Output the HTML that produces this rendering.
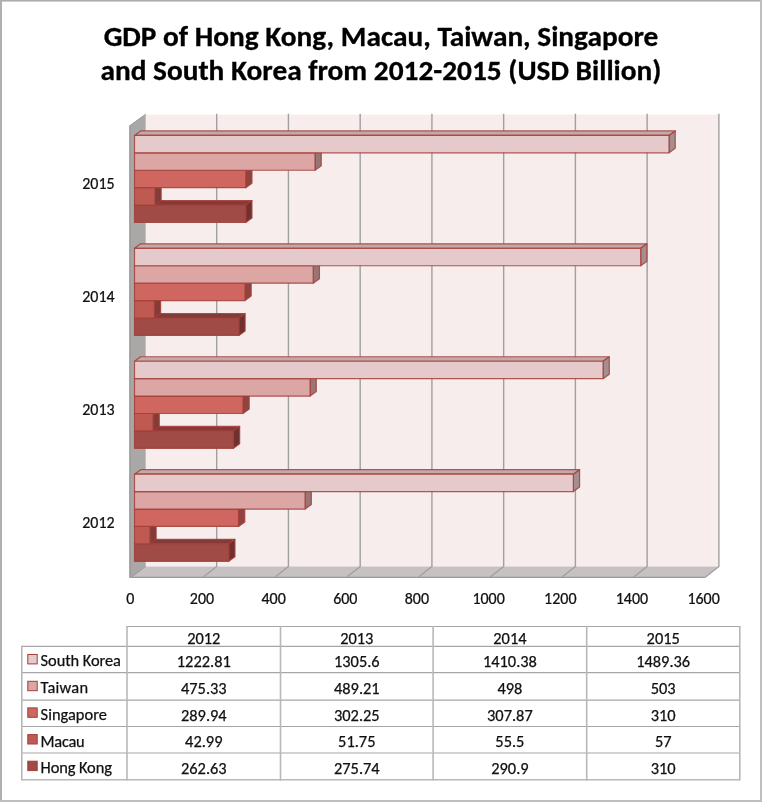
<!DOCTYPE html>
<html><head><meta charset="utf-8"><title>GDP chart</title>
<style>
html,body{margin:0;padding:0;background:#fff;}
body{width:762px;height:802px;overflow:hidden;position:relative;}
svg{position:absolute;left:0;top:0;will-change:transform;}
text{font-family:Carlito,"Liberation Sans",sans-serif;fill:#000;}
.ttl{font-size:29.33px;font-weight:bold;stroke:#000;stroke-width:0.3px;}
.ax{font-size:16px;fill:#111;stroke:#111;stroke-width:0.25px;}
.tb{font-size:16.4px;fill:#111;stroke:#111;stroke-width:0.25px;}
.lg{letter-spacing:0.1px;}
</style></head>
<body>
<svg width="762" height="802" viewBox="0 0 762 802">
<rect x="0" y="0" width="762" height="802" fill="#fff"/>
<g transform="translate(0,45.7) scale(1,0.94)"><text x="381" y="0" text-anchor="middle" class="ttl" textLength="554.66" lengthAdjust="spacingAndGlyphs">GDP of Hong Kong, Macau, Taiwan, Singapore</text></g>
<g transform="translate(0,79.8) scale(1,0.94)"><text x="381" y="0" text-anchor="middle" class="ttl" textLength="560.91" lengthAdjust="spacingAndGlyphs">and South Korea from 2012-2015 (USD Billion)</text></g>
<rect x="145.7" y="114.6" width="573.2" height="451.9" fill="#f7edec"/>
<polygon points="145.70,566.50 718.90,566.50 704.60,577.70 129.60,577.70" fill="#c7c1c1"/>
<line x1="129.6" y1="577.4" x2="704.60" y2="577.4" stroke="#999" stroke-width="1.3"/>
<polyline points="216.69,113.8 216.69,566.5 202.39,577.70" fill="none" stroke="#a0a0a0" stroke-width="1.4"/>
<polyline points="288.43,113.8 288.43,566.5 274.13,577.70" fill="none" stroke="#a0a0a0" stroke-width="1.4"/>
<polyline points="360.18,113.8 360.18,566.5 345.88,577.70" fill="none" stroke="#a0a0a0" stroke-width="1.4"/>
<polyline points="431.92,113.8 431.92,566.5 417.62,577.70" fill="none" stroke="#a0a0a0" stroke-width="1.4"/>
<polyline points="503.66,113.8 503.66,566.5 489.36,577.70" fill="none" stroke="#a0a0a0" stroke-width="1.4"/>
<polyline points="575.40,113.8 575.40,566.5 561.10,577.70" fill="none" stroke="#a0a0a0" stroke-width="1.4"/>
<polyline points="647.14,113.8 647.14,566.5 632.84,577.70" fill="none" stroke="#a0a0a0" stroke-width="1.4"/>
<polyline points="718.89,113.8 718.89,566.5 704.59,577.70" fill="none" stroke="#a0a0a0" stroke-width="1.4"/>
<polygon points="129.20,125.90 145.70,114.10 145.70,566.50 131.20,577.70 129.20,577.70" fill="#aaa7a7"/>
<line x1="130.1" y1="125.6" x2="130.1" y2="577" stroke="#9b9a9a" stroke-width="1.3"/>
<line x1="129.6" y1="125.8" x2="145.7" y2="114.2" stroke="#9b9a9a" stroke-width="0.9"/>
<line x1="145.7" y1="566.5" x2="131.2" y2="577.2" stroke="#9a9a9a" stroke-width="0.9"/>
<polygon points="134.50,205.08 245.76,205.08 251.96,200.58 140.70,200.58" fill="#843a38" stroke="#a23e3a" stroke-opacity="0.85" stroke-width="1.2" stroke-linejoin="round"/>
<polygon points="245.76,205.08 251.96,200.58 251.96,218.00 245.76,222.50" fill="#6f302e" stroke="#a23e3a" stroke-opacity="0.85" stroke-width="1.2" stroke-linejoin="round"/>
<polygon points="134.50,205.08 245.76,205.08 245.76,222.50 134.50,222.50" fill="#a04b46" stroke="#a23e3a" stroke-opacity="0.85" stroke-width="1.2" stroke-linejoin="round"/>
<polygon points="134.50,187.66 154.96,187.66 161.16,183.16 140.70,183.16" fill="#9c4843" stroke="#a23e3a" stroke-opacity="0.85" stroke-width="1.2" stroke-linejoin="round"/>
<polygon points="154.96,187.66 161.16,183.16 161.16,200.58 154.96,205.08" fill="#843c38" stroke="#a23e3a" stroke-opacity="0.85" stroke-width="1.2" stroke-linejoin="round"/>
<polygon points="134.50,187.66 154.96,187.66 154.96,205.08 134.50,205.08" fill="#bf5a53" stroke="#a23e3a" stroke-opacity="0.85" stroke-width="1.2" stroke-linejoin="round"/>
<polygon points="134.50,170.24 245.76,170.24 251.96,165.74 140.70,165.74" fill="#a9524d" stroke="#a23e3a" stroke-opacity="0.85" stroke-width="1.2" stroke-linejoin="round"/>
<polygon points="245.76,170.24 251.96,165.74 251.96,183.16 245.76,187.66" fill="#8f4440" stroke="#a23e3a" stroke-opacity="0.85" stroke-width="1.2" stroke-linejoin="round"/>
<polygon points="134.50,170.24 245.76,170.24 245.76,187.66 134.50,187.66" fill="#cf665f" stroke="#a23e3a" stroke-opacity="0.85" stroke-width="1.2" stroke-linejoin="round"/>
<polygon points="134.50,152.82 315.03,152.82 321.23,148.32 140.70,148.32" fill="#b88b89" stroke="#a23e3a" stroke-opacity="0.85" stroke-width="1.2" stroke-linejoin="round"/>
<polygon points="315.03,152.82 321.23,148.32 321.23,165.74 315.03,170.24" fill="#9a7573" stroke="#a23e3a" stroke-opacity="0.85" stroke-width="1.2" stroke-linejoin="round"/>
<polygon points="134.50,152.82 315.03,152.82 315.03,170.24 134.50,170.24" fill="#dba6a3" stroke="#a23e3a" stroke-opacity="0.85" stroke-width="1.2" stroke-linejoin="round"/>
<polygon points="134.50,135.40 669.03,135.40 675.23,130.90 140.70,130.90" fill="#c4a9a9" stroke="#a23e3a" stroke-opacity="0.85" stroke-width="1.2" stroke-linejoin="round"/>
<polygon points="669.03,135.40 675.23,130.90 675.23,148.32 669.03,152.82" fill="#a68e8f" stroke="#a23e3a" stroke-opacity="0.85" stroke-width="1.2" stroke-linejoin="round"/>
<polygon points="134.50,135.40 669.03,135.40 669.03,152.82 134.50,152.82" fill="#e6c9ca" stroke="#a23e3a" stroke-opacity="0.85" stroke-width="1.2" stroke-linejoin="round"/>
<polygon points="134.50,318.01 238.90,318.01 245.10,313.51 140.70,313.51" fill="#843a38" stroke="#a23e3a" stroke-opacity="0.85" stroke-width="1.2" stroke-linejoin="round"/>
<polygon points="238.90,318.01 245.10,313.51 245.10,330.93 238.90,335.43" fill="#6f302e" stroke="#a23e3a" stroke-opacity="0.85" stroke-width="1.2" stroke-linejoin="round"/>
<polygon points="134.50,318.01 238.90,318.01 238.90,335.43 134.50,335.43" fill="#a04b46" stroke="#a23e3a" stroke-opacity="0.85" stroke-width="1.2" stroke-linejoin="round"/>
<polygon points="134.50,300.59 154.42,300.59 160.62,296.09 140.70,296.09" fill="#9c4843" stroke="#a23e3a" stroke-opacity="0.85" stroke-width="1.2" stroke-linejoin="round"/>
<polygon points="154.42,300.59 160.62,296.09 160.62,313.51 154.42,318.01" fill="#843c38" stroke="#a23e3a" stroke-opacity="0.85" stroke-width="1.2" stroke-linejoin="round"/>
<polygon points="134.50,300.59 154.42,300.59 154.42,318.01 134.50,318.01" fill="#bf5a53" stroke="#a23e3a" stroke-opacity="0.85" stroke-width="1.2" stroke-linejoin="round"/>
<polygon points="134.50,283.17 244.99,283.17 251.19,278.67 140.70,278.67" fill="#a9524d" stroke="#a23e3a" stroke-opacity="0.85" stroke-width="1.2" stroke-linejoin="round"/>
<polygon points="244.99,283.17 251.19,278.67 251.19,296.09 244.99,300.59" fill="#8f4440" stroke="#a23e3a" stroke-opacity="0.85" stroke-width="1.2" stroke-linejoin="round"/>
<polygon points="134.50,283.17 244.99,283.17 244.99,300.59 134.50,300.59" fill="#cf665f" stroke="#a23e3a" stroke-opacity="0.85" stroke-width="1.2" stroke-linejoin="round"/>
<polygon points="134.50,265.75 313.23,265.75 319.43,261.25 140.70,261.25" fill="#b88b89" stroke="#a23e3a" stroke-opacity="0.85" stroke-width="1.2" stroke-linejoin="round"/>
<polygon points="313.23,265.75 319.43,261.25 319.43,278.67 313.23,283.17" fill="#9a7573" stroke="#a23e3a" stroke-opacity="0.85" stroke-width="1.2" stroke-linejoin="round"/>
<polygon points="134.50,265.75 313.23,265.75 313.23,283.17 134.50,283.17" fill="#dba6a3" stroke="#a23e3a" stroke-opacity="0.85" stroke-width="1.2" stroke-linejoin="round"/>
<polygon points="134.50,248.33 640.69,248.33 646.89,243.83 140.70,243.83" fill="#c4a9a9" stroke="#a23e3a" stroke-opacity="0.85" stroke-width="1.2" stroke-linejoin="round"/>
<polygon points="640.69,248.33 646.89,243.83 646.89,261.25 640.69,265.75" fill="#a68e8f" stroke="#a23e3a" stroke-opacity="0.85" stroke-width="1.2" stroke-linejoin="round"/>
<polygon points="134.50,248.33 640.69,248.33 640.69,265.75 134.50,265.75" fill="#e6c9ca" stroke="#a23e3a" stroke-opacity="0.85" stroke-width="1.2" stroke-linejoin="round"/>
<polygon points="134.50,430.94 233.46,430.94 239.66,426.44 140.70,426.44" fill="#843a38" stroke="#a23e3a" stroke-opacity="0.85" stroke-width="1.2" stroke-linejoin="round"/>
<polygon points="233.46,430.94 239.66,426.44 239.66,443.86 233.46,448.36" fill="#6f302e" stroke="#a23e3a" stroke-opacity="0.85" stroke-width="1.2" stroke-linejoin="round"/>
<polygon points="134.50,430.94 233.46,430.94 233.46,448.36 134.50,448.36" fill="#a04b46" stroke="#a23e3a" stroke-opacity="0.85" stroke-width="1.2" stroke-linejoin="round"/>
<polygon points="134.50,413.52 153.07,413.52 159.27,409.02 140.70,409.02" fill="#9c4843" stroke="#a23e3a" stroke-opacity="0.85" stroke-width="1.2" stroke-linejoin="round"/>
<polygon points="153.07,413.52 159.27,409.02 159.27,426.44 153.07,430.94" fill="#843c38" stroke="#a23e3a" stroke-opacity="0.85" stroke-width="1.2" stroke-linejoin="round"/>
<polygon points="134.50,413.52 153.07,413.52 153.07,430.94 134.50,430.94" fill="#bf5a53" stroke="#a23e3a" stroke-opacity="0.85" stroke-width="1.2" stroke-linejoin="round"/>
<polygon points="134.50,396.10 242.98,396.10 249.18,391.60 140.70,391.60" fill="#a9524d" stroke="#a23e3a" stroke-opacity="0.85" stroke-width="1.2" stroke-linejoin="round"/>
<polygon points="242.98,396.10 249.18,391.60 249.18,409.02 242.98,413.52" fill="#8f4440" stroke="#a23e3a" stroke-opacity="0.85" stroke-width="1.2" stroke-linejoin="round"/>
<polygon points="134.50,396.10 242.98,396.10 242.98,413.52 134.50,413.52" fill="#cf665f" stroke="#a23e3a" stroke-opacity="0.85" stroke-width="1.2" stroke-linejoin="round"/>
<polygon points="134.50,378.68 310.08,378.68 316.28,374.18 140.70,374.18" fill="#b88b89" stroke="#a23e3a" stroke-opacity="0.85" stroke-width="1.2" stroke-linejoin="round"/>
<polygon points="310.08,378.68 316.28,374.18 316.28,391.60 310.08,396.10" fill="#9a7573" stroke="#a23e3a" stroke-opacity="0.85" stroke-width="1.2" stroke-linejoin="round"/>
<polygon points="134.50,378.68 310.08,378.68 310.08,396.10 134.50,396.10" fill="#dba6a3" stroke="#a23e3a" stroke-opacity="0.85" stroke-width="1.2" stroke-linejoin="round"/>
<polygon points="134.50,361.26 603.08,361.26 609.28,356.76 140.70,356.76" fill="#c4a9a9" stroke="#a23e3a" stroke-opacity="0.85" stroke-width="1.2" stroke-linejoin="round"/>
<polygon points="603.08,361.26 609.28,356.76 609.28,374.18 603.08,378.68" fill="#a68e8f" stroke="#a23e3a" stroke-opacity="0.85" stroke-width="1.2" stroke-linejoin="round"/>
<polygon points="134.50,361.26 603.08,361.26 603.08,378.68 134.50,378.68" fill="#e6c9ca" stroke="#a23e3a" stroke-opacity="0.85" stroke-width="1.2" stroke-linejoin="round"/>
<polygon points="134.50,543.87 228.76,543.87 234.96,539.37 140.70,539.37" fill="#843a38" stroke="#a23e3a" stroke-opacity="0.85" stroke-width="1.2" stroke-linejoin="round"/>
<polygon points="228.76,543.87 234.96,539.37 234.96,556.79 228.76,561.29" fill="#6f302e" stroke="#a23e3a" stroke-opacity="0.85" stroke-width="1.2" stroke-linejoin="round"/>
<polygon points="134.50,543.87 228.76,543.87 228.76,561.29 134.50,561.29" fill="#a04b46" stroke="#a23e3a" stroke-opacity="0.85" stroke-width="1.2" stroke-linejoin="round"/>
<polygon points="134.50,526.45 149.93,526.45 156.13,521.95 140.70,521.95" fill="#9c4843" stroke="#a23e3a" stroke-opacity="0.85" stroke-width="1.2" stroke-linejoin="round"/>
<polygon points="149.93,526.45 156.13,521.95 156.13,539.37 149.93,543.87" fill="#843c38" stroke="#a23e3a" stroke-opacity="0.85" stroke-width="1.2" stroke-linejoin="round"/>
<polygon points="134.50,526.45 149.93,526.45 149.93,543.87 134.50,543.87" fill="#bf5a53" stroke="#a23e3a" stroke-opacity="0.85" stroke-width="1.2" stroke-linejoin="round"/>
<polygon points="134.50,509.03 238.56,509.03 244.76,504.53 140.70,504.53" fill="#a9524d" stroke="#a23e3a" stroke-opacity="0.85" stroke-width="1.2" stroke-linejoin="round"/>
<polygon points="238.56,509.03 244.76,504.53 244.76,521.95 238.56,526.45" fill="#8f4440" stroke="#a23e3a" stroke-opacity="0.85" stroke-width="1.2" stroke-linejoin="round"/>
<polygon points="134.50,509.03 238.56,509.03 238.56,526.45 134.50,526.45" fill="#cf665f" stroke="#a23e3a" stroke-opacity="0.85" stroke-width="1.2" stroke-linejoin="round"/>
<polygon points="134.50,491.61 305.10,491.61 311.30,487.11 140.70,487.11" fill="#b88b89" stroke="#a23e3a" stroke-opacity="0.85" stroke-width="1.2" stroke-linejoin="round"/>
<polygon points="305.10,491.61 311.30,487.11 311.30,504.53 305.10,509.03" fill="#9a7573" stroke="#a23e3a" stroke-opacity="0.85" stroke-width="1.2" stroke-linejoin="round"/>
<polygon points="134.50,491.61 305.10,491.61 305.10,509.03 134.50,509.03" fill="#dba6a3" stroke="#a23e3a" stroke-opacity="0.85" stroke-width="1.2" stroke-linejoin="round"/>
<polygon points="134.50,474.19 573.37,474.19 579.57,469.69 140.70,469.69" fill="#c4a9a9" stroke="#a23e3a" stroke-opacity="0.85" stroke-width="1.2" stroke-linejoin="round"/>
<polygon points="573.37,474.19 579.57,469.69 579.57,487.11 573.37,491.61" fill="#a68e8f" stroke="#a23e3a" stroke-opacity="0.85" stroke-width="1.2" stroke-linejoin="round"/>
<polygon points="134.50,474.19 573.37,474.19 573.37,491.61 134.50,491.61" fill="#e6c9ca" stroke="#a23e3a" stroke-opacity="0.85" stroke-width="1.2" stroke-linejoin="round"/>
<text x="114.7" y="189.5" transform="matrix(1,0,0,0.97,0,5.685)" text-anchor="end" class="ax" textLength="32.42" lengthAdjust="spacingAndGlyphs">2015</text>
<text x="114.7" y="302.4" transform="matrix(1,0,0,0.97,0,9.073)" text-anchor="end" class="ax" textLength="32.42" lengthAdjust="spacingAndGlyphs">2014</text>
<text x="114.7" y="415.4" transform="matrix(1,0,0,0.97,0,12.461)" text-anchor="end" class="ax" textLength="32.42" lengthAdjust="spacingAndGlyphs">2013</text>
<text x="114.7" y="528.3" transform="matrix(1,0,0,0.97,0,15.849)" text-anchor="end" class="ax" textLength="32.42" lengthAdjust="spacingAndGlyphs">2012</text>
<text x="130.3" y="604.2" transform="matrix(1,0,0,0.97,0,18.126)" text-anchor="middle" class="ax" textLength="8.11" lengthAdjust="spacingAndGlyphs">0</text>
<text x="202.0" y="604.2" transform="matrix(1,0,0,0.97,0,18.126)" text-anchor="middle" class="ax" textLength="24.32" lengthAdjust="spacingAndGlyphs">200</text>
<text x="273.6" y="604.2" transform="matrix(1,0,0,0.97,0,18.126)" text-anchor="middle" class="ax" textLength="24.32" lengthAdjust="spacingAndGlyphs">400</text>
<text x="345.3" y="604.2" transform="matrix(1,0,0,0.97,0,18.126)" text-anchor="middle" class="ax" textLength="24.32" lengthAdjust="spacingAndGlyphs">600</text>
<text x="416.9" y="604.2" transform="matrix(1,0,0,0.97,0,18.126)" text-anchor="middle" class="ax" textLength="24.32" lengthAdjust="spacingAndGlyphs">800</text>
<text x="488.6" y="604.2" transform="matrix(1,0,0,0.97,0,18.126)" text-anchor="middle" class="ax" textLength="32.42" lengthAdjust="spacingAndGlyphs">1000</text>
<text x="560.3" y="604.2" transform="matrix(1,0,0,0.97,0,18.126)" text-anchor="middle" class="ax" textLength="32.42" lengthAdjust="spacingAndGlyphs">1200</text>
<text x="631.9" y="604.2" transform="matrix(1,0,0,0.97,0,18.126)" text-anchor="middle" class="ax" textLength="32.42" lengthAdjust="spacingAndGlyphs">1400</text>
<text x="703.6" y="604.2" transform="matrix(1,0,0,0.97,0,18.126)" text-anchor="middle" class="ax" textLength="32.42" lengthAdjust="spacingAndGlyphs">1600</text>
<line x1="21.8" y1="672.6" x2="739.8" y2="672.6" stroke="#a6a6a6" stroke-width="1.2"/>
<line x1="21.8" y1="700.1" x2="739.8" y2="700.1" stroke="#a6a6a6" stroke-width="1.2"/>
<line x1="21.8" y1="726.5" x2="739.8" y2="726.5" stroke="#a6a6a6" stroke-width="1.2"/>
<line x1="21.8" y1="753.0" x2="739.8" y2="753.0" stroke="#a6a6a6" stroke-width="1.2"/>
<line x1="21.8" y1="646.3" x2="739.8" y2="646.3" stroke="#a6a6a6" stroke-width="1.2"/>
<line x1="21.8" y1="779.8" x2="739.8" y2="779.8" stroke="#b8b8b8" stroke-width="1.6"/>
<line x1="126.2" y1="626.5" x2="740.5999999999999" y2="626.5" stroke="#a6a6a6" stroke-width="1.2"/>
<line x1="21.8" y1="645.6999999999999" x2="21.8" y2="780.5999999999999" stroke="#b8b8b8" stroke-width="1.6"/>
<line x1="127.00" y1="625.9" x2="127.00" y2="780.5999999999999" stroke="#b8b8b8" stroke-width="1.6"/>
<line x1="280.50" y1="625.9" x2="280.50" y2="780.5999999999999" stroke="#b8b8b8" stroke-width="1.6"/>
<line x1="433.10" y1="625.9" x2="433.10" y2="780.5999999999999" stroke="#b8b8b8" stroke-width="1.6"/>
<line x1="586.70" y1="625.9" x2="586.70" y2="780.5999999999999" stroke="#b8b8b8" stroke-width="1.6"/>
<line x1="739.80" y1="625.9" x2="739.80" y2="780.5999999999999" stroke="#b8b8b8" stroke-width="1.6"/>
<text x="203.8" y="643.8" text-anchor="middle" class="tb" textLength="33.23" lengthAdjust="spacingAndGlyphs">2012</text>
<text x="356.8" y="643.8" text-anchor="middle" class="tb" textLength="33.23" lengthAdjust="spacingAndGlyphs">2013</text>
<text x="509.9" y="643.8" text-anchor="middle" class="tb" textLength="33.23" lengthAdjust="spacingAndGlyphs">2014</text>
<text x="663.2" y="643.8" text-anchor="middle" class="tb" textLength="33.23" lengthAdjust="spacingAndGlyphs">2015</text>
<rect x="27.8" y="654.5" width="9.4" height="9.4" fill="#e6c9ca" stroke="#a23e3a" stroke-width="1"/>
<text x="40.6" y="666.4" class="tb" textLength="80.3" lengthAdjust="spacing">South Korea</text>
<text x="203.8" y="667.2" text-anchor="middle" class="tb" textLength="53.98" lengthAdjust="spacingAndGlyphs">1222.81</text>
<text x="356.8" y="667.2" text-anchor="middle" class="tb" textLength="45.69" lengthAdjust="spacingAndGlyphs">1305.6</text>
<text x="509.9" y="667.2" text-anchor="middle" class="tb" textLength="53.98" lengthAdjust="spacingAndGlyphs">1410.38</text>
<text x="663.2" y="667.2" text-anchor="middle" class="tb" textLength="53.98" lengthAdjust="spacingAndGlyphs">1489.36</text>
<rect x="27.8" y="681.3" width="9.4" height="9.4" fill="#dba6a3" stroke="#a23e3a" stroke-width="1"/>
<text x="40.6" y="693.2" class="tb" textLength="47.4" lengthAdjust="spacing">Taiwan</text>
<text x="203.8" y="694.0" text-anchor="middle" class="tb" textLength="45.69" lengthAdjust="spacingAndGlyphs">475.33</text>
<text x="356.8" y="694.0" text-anchor="middle" class="tb" textLength="45.69" lengthAdjust="spacingAndGlyphs">489.21</text>
<text x="509.9" y="694.0" text-anchor="middle" class="tb" textLength="24.94" lengthAdjust="spacingAndGlyphs">498</text>
<text x="663.2" y="694.0" text-anchor="middle" class="tb" textLength="24.94" lengthAdjust="spacingAndGlyphs">503</text>
<rect x="27.8" y="707.9" width="9.4" height="9.4" fill="#cf665f" stroke="#a23e3a" stroke-width="1"/>
<text x="40.6" y="719.8" class="tb" textLength="66.2" lengthAdjust="spacing">Singapore</text>
<text x="203.8" y="720.6" text-anchor="middle" class="tb" textLength="45.69" lengthAdjust="spacingAndGlyphs">289.94</text>
<text x="356.8" y="720.6" text-anchor="middle" class="tb" textLength="45.69" lengthAdjust="spacingAndGlyphs">302.25</text>
<text x="509.9" y="720.6" text-anchor="middle" class="tb" textLength="45.69" lengthAdjust="spacingAndGlyphs">307.87</text>
<text x="663.2" y="720.6" text-anchor="middle" class="tb" textLength="24.94" lengthAdjust="spacingAndGlyphs">310</text>
<rect x="27.8" y="734.6" width="9.4" height="9.4" fill="#bf5a53" stroke="#a23e3a" stroke-width="1"/>
<text x="40.6" y="746.5" class="tb" textLength="44.0" lengthAdjust="spacing">Macau</text>
<text x="203.8" y="747.3" text-anchor="middle" class="tb" textLength="37.38" lengthAdjust="spacingAndGlyphs">42.99</text>
<text x="356.8" y="747.3" text-anchor="middle" class="tb" textLength="37.38" lengthAdjust="spacingAndGlyphs">51.75</text>
<text x="509.9" y="747.3" text-anchor="middle" class="tb" textLength="29.06" lengthAdjust="spacingAndGlyphs">55.5</text>
<text x="663.2" y="747.3" text-anchor="middle" class="tb" textLength="16.62" lengthAdjust="spacingAndGlyphs">57</text>
<rect x="27.8" y="761.2" width="9.4" height="9.4" fill="#a04b46" stroke="#a23e3a" stroke-width="1"/>
<text x="40.6" y="773.1" class="tb" textLength="71.3" lengthAdjust="spacing">Hong Kong</text>
<text x="203.8" y="773.9" text-anchor="middle" class="tb" textLength="45.69" lengthAdjust="spacingAndGlyphs">262.63</text>
<text x="356.8" y="773.9" text-anchor="middle" class="tb" textLength="45.69" lengthAdjust="spacingAndGlyphs">275.74</text>
<text x="509.9" y="773.9" text-anchor="middle" class="tb" textLength="37.38" lengthAdjust="spacingAndGlyphs">290.9</text>
<text x="663.2" y="773.9" text-anchor="middle" class="tb" textLength="24.94" lengthAdjust="spacingAndGlyphs">310</text>
<rect x="0" y="0" width="762" height="1.6" fill="#adadad"/>
<rect x="0" y="0" width="2" height="802" fill="#b0b0b0"/>
<rect x="760" y="0" width="2" height="802" fill="#bfbfbf"/>
<rect x="0" y="800" width="762" height="2" fill="#bdbdbd"/>
</svg>
</body></html>
